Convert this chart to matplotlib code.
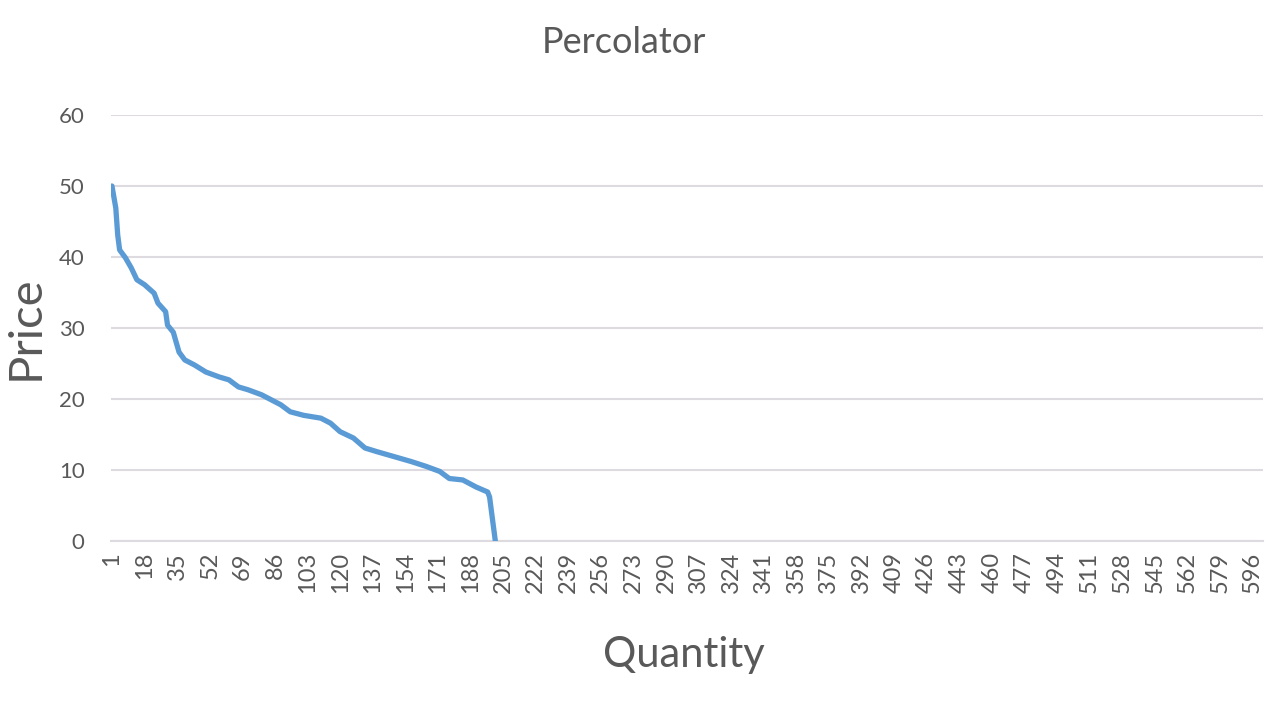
import matplotlib.pyplot as plt

# Excel-style line chart: price vs quantity (category axis 1..601)
n_categories = 601
tick_step = 17

quantity = [1, 3, 4, 5, 8, 11, 14, 18, 23, 25, 29, 30, 33, 36, 39, 44, 50, 57,
            62, 67, 72, 79, 84, 89, 94, 101, 110, 115, 120, 127, 133, 139,
            148, 157, 165, 172, 177, 184, 191, 197, 198, 201]
price = [50, 46.9, 43.1, 41.0, 39.9, 38.5, 36.8, 36.1, 34.9, 33.5, 32.3, 30.4,
         29.4, 26.6, 25.5, 24.8, 23.8, 23.1, 22.7, 21.7, 21.3, 20.6, 19.9,
         19.2, 18.2, 17.7, 17.3, 16.6, 15.4, 14.5, 13.1, 12.6, 11.9, 11.2,
         10.5, 9.8, 8.8, 8.6, 7.6, 6.9, 6.2, 0]

y_ticks = [0, 10, 20, 30, 40, 50, 60]
x_ticks = list(range(1, n_categories + 1, tick_step))

plt.rcParams['font.family'] = ['Lato', 'DejaVu Sans']
text_col = '#595959'
grid_col = '#dedbe0'

fig = plt.figure(figsize=(12.8, 7.21), dpi=100)
ax = fig.add_axes([111/1280, 1 - 541/721, 1152/1280, 426/721])

ax.plot(quantity, price, color='#5b9bd5', linewidth=3.8,
        solid_joinstyle='round', solid_capstyle='round', zorder=3)

ax.set_xlim(0.5, n_categories + 0.5)
ax.set_ylim(0, 60)
ax.set_yticks(y_ticks)
ax.set_xticks(x_ticks)
ax.set_xticklabels([str(t) for t in x_ticks], rotation=90)

ax.grid(axis='y', color=grid_col, linewidth=1.5)
ax.set_axisbelow(True)
for s in ['top', 'right', 'left']:
    ax.spines[s].set_visible(False)
ax.spines['bottom'].set_color(grid_col)
ax.spines['bottom'].set_linewidth(1.5)

ax.tick_params(axis='y', length=0, labelcolor=text_col, labelsize=16, pad=19)
ax.tick_params(axis='x', length=0, labelcolor=text_col, labelsize=17, pad=8)

fig.text(0.4875, 0.941, 'Percolator', ha='center', va='center',
         fontsize=26, color=text_col)
fig.text(0.534, 0.092, 'Quantity', ha='center', va='center',
         fontsize=30, color=text_col)
fig.text(0.02, 0.546, 'Price', ha='center', va='center', rotation=90,
         fontsize=34, color=text_col)

fig.savefig('out.png', dpi=100, facecolor='white')
